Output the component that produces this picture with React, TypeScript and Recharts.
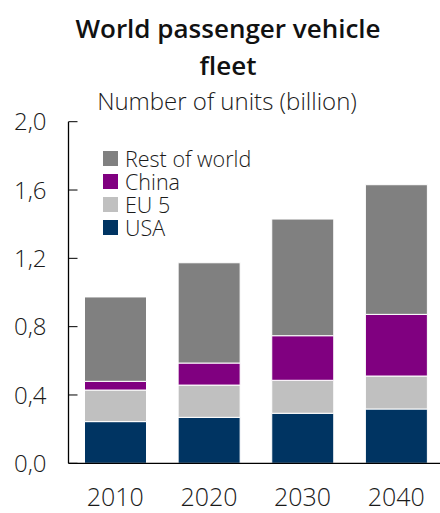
import { BarChart, Bar, XAxis, YAxis, Legend } from 'recharts';

const years = ['2010', '2020', '2030', '2040'];
const usa = [0.244, 0.269, 0.293, 0.318];
const eu5 = [0.185, 0.189, 0.193, 0.193];
const china = [0.051, 0.129, 0.261, 0.361];
const restOfWorld = [0.494, 0.587, 0.683, 0.759];
const yTicks = [0, 0.4, 0.8, 1.2, 1.6, 2.0];
const legendOrder = ['row', 'china', 'eu5', 'usa'];

const data = years.map((year, i) => ({
  year,
  usa: usa[i],
  eu5: eu5[i],
  china: china[i],
  row: restOfWorld[i],
}));

const FONT = '"Open Sans", "DejaVu Sans", sans-serif';
const TICK_MARGIN = 22;

const YTick = (props: any) => {
  const { x, y, payload } = props;
  const axisX = x + TICK_MARGIN;
  return (
    <g>
      <line x1={axisX} x2={axisX + 9} y1={y} y2={y} stroke="#000" strokeWidth={1} />
      <text x={x} y={y} dy="0.36em" textAnchor="end" fontSize={24} fontWeight={300} fontFamily={FONT} fill="#1a1a1a">
        {Number(payload.value).toFixed(1).replace('.', ',')}
      </text>
    </g>
  );
};

const LegendBox = ({ payload }: any) => {
  const items = legendOrder
    .map((k) => (payload || []).find((p: any) => p.dataKey === k))
    .filter(Boolean);
  return (
    <div style={{ fontFamily: FONT }}>
      {items.map((it: any) => (
        <div key={it.value} style={{ display: 'flex', alignItems: 'center', height: 23 }}>
          <span style={{ width: 15, height: 15, background: it.color, display: 'inline-block', marginRight: 7 }} />
          <span style={{ display: 'block', height: 21, fontSize: 21.5, fontWeight: 300, color: '#1a1a1a', lineHeight: '21px' }}>
            {it.value}
          </span>
        </div>
      ))}
    </div>
  );
};

export default function App() {
  return (
    <div style={{ position: 'absolute', left: 0, top: 0, width: 440, height: 513, background: '#fff', fontFamily: FONT }}>
      <div style={{ position: 'absolute', left: 8, width: 440, top: 10, textAlign: 'center', fontSize: 26, fontWeight: 600, lineHeight: '37px', color: '#111' }}>
        World passenger vehicle
        <br />
        fleet
      </div>
      <div style={{ position: 'absolute', left: 0, width: 454, top: 84, textAlign: 'center', fontSize: 24, fontWeight: 300, color: '#1a1a1a' }}>
        Number of units (billion)
      </div>
      <BarChart
        width={440}
        height={513}
        data={data}
        margin={{ top: 121.7, right: -3, bottom: 0, left: 0 }}
        barSize={62}
      >
        <XAxis
          dataKey="year"
          height={49.7}
          tickLine={false}
          tickSize={0}
          tickMargin={25}
          axisLine={{ stroke: '#000', strokeWidth: 1.3 }}
          tick={{ fontSize: 25, fontWeight: 300, fontFamily: FONT, fill: '#1a1a1a' }}
        />
        <YAxis
          width={68.5}
          domain={[0, 2]}
          ticks={yTicks}
          tickLine={false}
          tickSize={0}
          tickMargin={TICK_MARGIN}
          axisLine={{ stroke: '#000', strokeWidth: 1.3 }}
          tick={<YTick />}
          interval={0}
        />
        <Legend
          layout="vertical"
          align="center"
          verticalAlign="middle"
          content={<LegendBox />}
          wrapperStyle={{ left: 103, top: 147, width: 200 }}
        />
        <Bar dataKey="usa" name="USA" stackId="a" fill="#003462" stroke="#fff" strokeWidth={1} isAnimationActive={false} />
        <Bar dataKey="eu5" name="EU 5" stackId="a" fill="#c0c0c0" stroke="#fff" strokeWidth={1} isAnimationActive={false} />
        <Bar dataKey="china" name="China" stackId="a" fill="#800080" stroke="#fff" strokeWidth={1} isAnimationActive={false} />
        <Bar dataKey="row" name="Rest of world" stackId="a" fill="#808080" stroke="#fff" strokeWidth={1} isAnimationActive={false} />
      </BarChart>
    </div>
  );
}
